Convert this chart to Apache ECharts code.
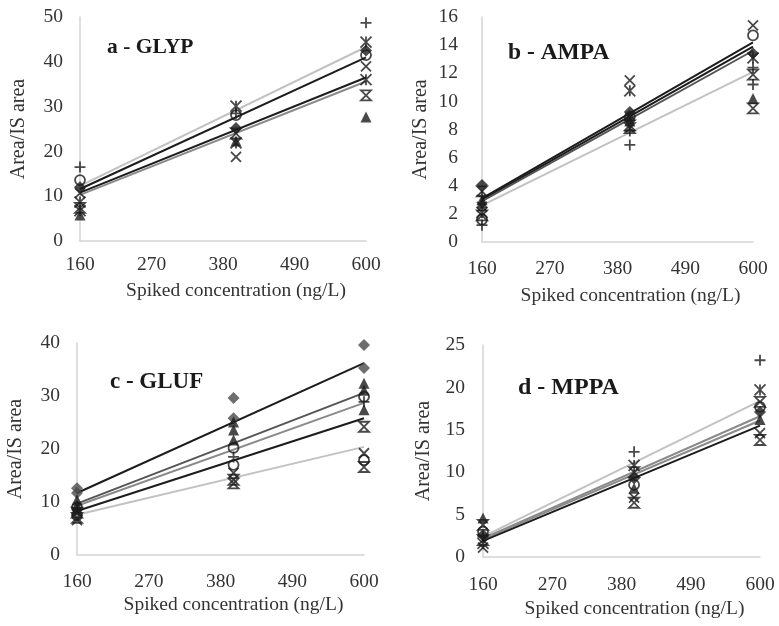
<!DOCTYPE html>
<html>
<head>
<meta charset="utf-8">
<script src="https://cdn.jsdelivr.net/npm/echarts@6/dist/echarts.min.js"></script>
<style>
html,body{margin:0;padding:0;background:#fff;}
#chart{width:779px;height:626px;}
</style>
</head>
<body>
<div id="chart"></div>
<script>
// ---------- data ----------
const X_CONC = [160, 400, 600];          // spiked concentrations (ng/L)
const X_TICKS = [160, 270, 380, 490, 600];
const X_NAME = 'Spiked concentration (ng/L)';
const Y_NAME = 'Area/IS area';

// a - GLYP : one row per replicate series, values at 160 / 400 / 600
const GLYP_MARKERS = ['plus', 'asterisk', 'diamond', 'circle', 'cross', 'hourglass', 'triangle', 'asterisk'];
const GLYP_VALUES = [
  [16.5, 28.5, 48.7],
  [8.7, 30.1, 44.4],
  [12.0, 25.2, 42.5],
  [13.6, 28.1, 41.5],
  [10.7, 18.8, 39.0],
  [7.4, 24.0, 32.5],
  [5.8, 22.3, 27.7],
  [6.8, 21.9, 36.0]
];
const GLYP_TREND = [[12.3, 43.3], [11.6, 41.0], [10.8, 36.5], [10.3, 35.6]]; // fitted at 160 / 600
const GLYP_SHADES = ['light', 'black', 'black', 'gray'];

// b - AMPA
const AMPA_MARKERS = ['triangle', 'cross', 'circle', 'diamond', 'asterisk', 'plus', 'hourglass', 'plus', 'triangle', 'hourglass'];
const AMPA_VALUES = [
  [3.0, 9.0, 16.1],
  [2.5, 11.5, 15.4],
  [1.6, 8.9, 14.7],
  [4.05, 9.25, 13.4],
  [2.1, 10.75, 13.1],
  [1.2, 6.9, 12.4],
  [3.6, 8.3, 11.9],
  [3.3, 7.9, 11.2],
  [2.8, 8.6, 10.2],
  [1.9, 8.1, 9.5]
];
const AMPA_TREND = [[3.1, 14.2], [3.0, 13.9], [2.9, 13.6], [2.6, 12.1]];
const AMPA_SHADES = ['black', 'black', 'dark', 'light'];

// c - GLUF
const GLUF_MARKERS = ['diamond', 'diamond', 'triangle', 'triangle', 'circle', 'plus', 'triangle', 'hourglass', 'cross', 'circle', 'hourglass'];
const GLUF_VALUES = [
  [12.6, 29.6, 39.6],
  [11.7, 25.8, 35.3],
  [10.4, 23.6, 32.4],
  [9.4, 21.7, 31.1],
  [9.0, 20.2, 29.9],
  [8.8, 18.5, 28.9],
  [8.5, 25.1, 27.4],
  [8.0, 14.2, 24.2],
  [6.6, 15.5, 19.2],
  [7.5, 17.0, 17.9],
  [7.0, 13.5, 16.6]
];
const GLUF_TREND = [[11.7, 36.2], [9.7, 30.6], [9.3, 28.7], [8.3, 25.8], [7.6, 20.4]];
const GLUF_SHADES = ['black', 'dark', 'gray', 'black', 'light'];

// d - MPPA
const MPPA_MARKERS = ['plus', 'asterisk', 'hourglass', 'circle', 'diamond', 'triangle', 'cross', 'hourglass'];
const MPPA_VALUES = [
  [2.4, 12.4, 23.2],
  [1.6, 10.8, 19.7],
  [3.8, 10.0, 18.3],
  [3.0, 8.5, 17.7],
  [2.6, 9.3, 17.1],
  [4.6, 8.1, 16.2],
  [1.1, 7.0, 14.6],
  [2.0, 6.4, 13.8]
];
const MPPA_TREND = [[2.4, 18.4], [2.2, 16.6], [2.1, 16.1], [1.9, 15.5]];
const MPPA_SHADES = ['light', 'gray', 'gray', 'black'];

// ---------- styles ----------
const SERIF = '"Liberation Serif", "DejaVu Serif", serif';
const SHADE = { black: '#1c1c1c', dark: '#555555', gray: '#8a8a8a', light: '#c2c2c2' };
const MARK = {
  plus:      { symbol: 'path://M5,0V10M0,5H10', size: 11, fill: 'rgba(0,0,0,0)', stroke: true },
  cross:     { symbol: 'path://M0,0L10,10M10,0L0,10', size: 10, fill: 'rgba(0,0,0,0)', stroke: true },
  asterisk:  { symbol: 'path://M0,0L10,10M10,0L0,10M5,0V10', size: 11, fill: 'rgba(0,0,0,0)', stroke: true },
  hourglass: { symbol: 'path://M0,0H10L0,10H10Z', size: 10, fill: 'rgba(0,0,0,0)', stroke: true },
  circle:    { symbol: 'circle', size: 10, fill: 'rgba(0,0,0,0)', stroke: true },
  diamond:   { symbol: 'diamond', size: 12, fill: null, stroke: false },
  triangle:  { symbol: 'triangle', size: 11, fill: null, stroke: false }
};

const panels = [
  { title: 'a - GLYP', markers: GLYP_MARKERS, values: GLYP_VALUES, trend: GLYP_TREND, shades: GLYP_SHADES,
    yMax: 50, yInt: 10, grid: { left: 80, top: 17, width: 286, height: 224 }, tPos: [107, 36], tSize: 21.5,
    yMargin: 17, xMargin: 14, xGap: 40, yGap: 51, markColor: '#1c1c1c' },
  { title: 'b - AMPA', markers: AMPA_MARKERS, values: AMPA_VALUES, trend: AMPA_TREND, shades: AMPA_SHADES,
    yMax: 16, yInt: 2, grid: { left: 482, top: 17, width: 271, height: 225 }, tPos: [508, 41], tSize: 23.5,
    yMargin: 24, xMargin: 17, xGap: 44, yGap: 51, markColor: '#1c1c1c' },
  { title: 'c - GLUF', markers: GLUF_MARKERS, values: GLUF_VALUES, trend: GLUF_TREND, shades: GLUF_SHADES,
    yMax: 40, yInt: 10, grid: { left: 77, top: 343, width: 287, height: 212 }, tPos: [110, 371], tSize: 23,
    yMargin: 17, xMargin: 17, xGap: 40, yGap: 51, markColor: '#1c1c1c' },
  { title: 'd - MPPA', markers: MPPA_MARKERS, values: MPPA_VALUES, trend: MPPA_TREND, shades: MPPA_SHADES,
    yMax: 25, yInt: 5, grid: { left: 483, top: 345, width: 277, height: 212 }, tPos: [518, 376], tSize: 24,
    yMargin: 18, xMargin: 18, xGap: 42, yGap: 49, markColor: '#1c1c1c' }
];

const grids = [], xAxes = [], yAxes = [], titles = [], series = [];
panels.forEach((p, i) => {
  grids.push(Object.assign({ containLabel: false }, p.grid));
  titles.push({
    text: p.title, left: p.tPos[0], top: p.tPos[1], padding: 0,
    textStyle: { fontFamily: SERIF, fontWeight: 'bold', fontSize: p.tSize, color: '#1a1a1a' }
  });
  xAxes.push({
    type: 'value', gridIndex: i, min: X_TICKS[0], max: X_TICKS[X_TICKS.length - 1],
    interval: X_TICKS[1] - X_TICKS[0],
    name: X_NAME, nameLocation: 'middle', nameGap: p.xGap,
    nameTextStyle: { fontFamily: SERIF, fontSize: 19.5, color: '#333', padding: [0, 0, 0, 26] },
    axisLine: { show: true, lineStyle: { color: '#d4d4d4', width: 1.5 } },
    axisTick: { show: false }, splitLine: { show: false },
    axisLabel: { fontFamily: SERIF, fontSize: 19.5, color: '#333', margin: p.xMargin }
  });
  yAxes.push({
    type: 'value', gridIndex: i, min: 0, max: p.yMax, interval: p.yInt,
    name: Y_NAME, nameLocation: 'middle', nameGap: p.yGap, nameRotate: 90,
    nameTextStyle: { fontFamily: SERIF, fontSize: 20, color: '#333' },
    axisLine: { show: true, lineStyle: { color: '#d4d4d4', width: 1.5 } },
    axisTick: { show: false }, splitLine: { show: false },
    axisLabel: { fontFamily: SERIF, fontSize: 19.5, color: '#333', margin: p.yMargin }
  });
  // trend lines
  p.trend.forEach((t, k) => {
    series.push({
      type: 'line', xAxisIndex: i, yAxisIndex: i, silent: true, animation: false,
      showSymbol: false, symbol: 'none', z: 2,
      lineStyle: { color: SHADE[p.shades[k]], width: 2 },
      data: [[X_CONC[0], t[0]], [X_CONC[X_CONC.length - 1], t[1]]]
    });
  });
  // replicate markers
  p.values.forEach((row, k) => {
    const m = MARK[p.markers[k]];
    const col = (p.title.startsWith('c') && p.markers[k] === 'diamond') ? '#4a4a4a' : p.markColor;
    series.push({
      type: 'scatter', xAxisIndex: i, yAxisIndex: i, animation: false, z: 3,
      symbol: m.symbol, symbolSize: m.size,
      itemStyle: m.stroke
        ? { color: m.fill, borderColor: col, borderWidth: 1.8 }
        : { color: col, borderWidth: 0 },
      data: row.map((v, j) => [X_CONC[j], v])
    });
  });
});

const chart = echarts.init(document.getElementById('chart'), null, { renderer: 'canvas' });
chart.setOption({
  backgroundColor: '#ffffff',
  animation: false,
  title: titles,
  grid: grids,
  xAxis: xAxes,
  yAxis: yAxes,
  series: series
});
</script>
</body>
</html>
